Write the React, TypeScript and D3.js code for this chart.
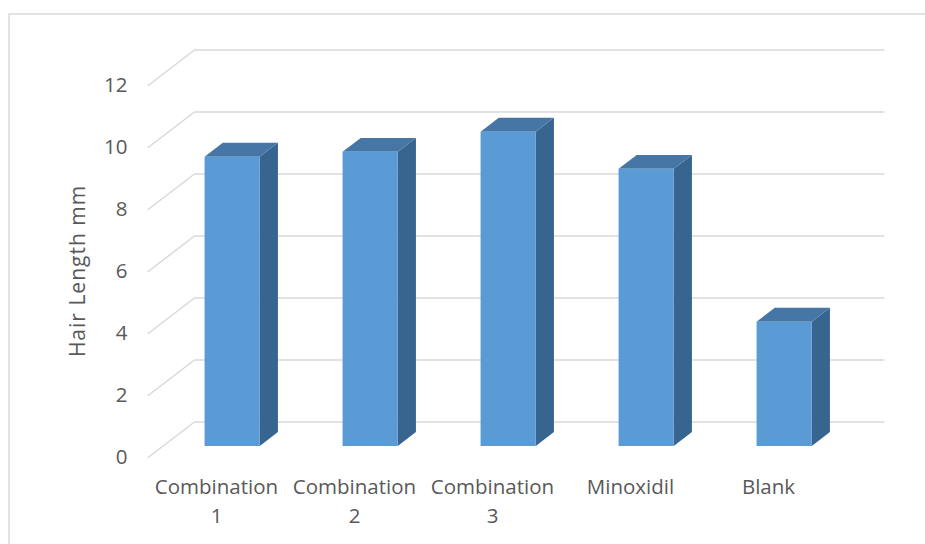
import React from "react";
import * as d3 from "d3";

const categories = ["Combination 1", "Combination 2", "Combination 3", "Minoxidil", "Blank"];
const values = [9.33, 9.49, 10.14, 8.94, 4.01];
const yTicks = [0, 2, 4, 6, 8, 10, 12];
const yTitle = "Hair Length mm";

const W = 925;
const H = 544;
const DX = 47;
const DY = -36;
const FRONT_F = 1 / 3;
const BACK_F = 0.72;
const FONT = "'Open Sans', 'Noto Sans', sans-serif";
const TEXT = "#595959";
const GRID = "#D9D9D9";

export default function App() {
  const x = d3.scaleBand<string>().domain(categories).range([147.5, 837.5]).paddingInner(0.6).paddingOuter(0.3);
  const y = d3.scaleLinear().domain([0, 12]).range([458, 86]);
  const bw = x.bandwidth();
  const x0 = 147.5;
  const x1 = 837.5;

  const P = (px: number, py: number, f: number) => [px + DX * f, py + DY * f];
  const poly = (pts: number[][]) => pts.map((p) => p.join(",")).join(" ");

  return (
    <svg width={W} height={H} style={{ position: "absolute", left: 0, top: 0, background: "#fff" }}>
      <rect x={9} y={14} width={W + 20} height={H + 20} fill="#fff" stroke={GRID} strokeWidth={1.5} />
      {yTicks.map((t) => {
        const a = P(x0, y(t), 0);
        const b = P(x0, y(t), 1);
        const c = P(x1, y(t), 1);
        return (
          <g key={t}>
            <polyline points={poly([a, b, c])} fill="none" stroke={GRID} strokeWidth={1.5} />
            <text x={127.5} y={y(t) + 1} textAnchor="end" dominantBaseline="middle" fontFamily={FONT} fontSize={20.5} fill={TEXT}>
              {t}
            </text>
          </g>
        );
      })}
      {categories.map((c, i) => {
        const v = values[i];
        const left = x(c)!;
        const right = left + bw;
        const fTopL = P(left, y(v), FRONT_F);
        const fTopR = P(right, y(v), FRONT_F);
        const fBotL = P(left, y(0), FRONT_F);
        const fBotR = P(right, y(0), FRONT_F);
        const bTopL = P(left, y(v), BACK_F);
        const bTopR = P(right, y(v), BACK_F);
        const bBotR = P(right, y(0), BACK_F);
        return (
          <g key={c}>
            <polygon points={poly([fTopR, bTopR, bBotR, fBotR])} fill="#386490" />
            <polygon points={poly([fTopL, bTopL, bTopR, fTopR])} fill="#4676A6" />
            <polygon points={poly([fTopL, fTopR, fBotR, fBotL])} fill="#5B9BD5" />
          </g>
        );
      })}
      {categories.map((c) => {
        const cx = x(c)! + bw / 2;
        const idx = c.lastIndexOf(" ");
        const lines = c.length > 10 && idx > 0 ? [c.slice(0, idx), c.slice(idx + 1)] : [c];
        return (
          <text key={c} textAnchor="middle" fontFamily={FONT} fontSize={20.5} fill={TEXT}>
            {lines.map((l, k) => (
              <tspan key={k} x={cx} y={494 + k * 29}>
                {l}
              </tspan>
            ))}
          </text>
        );
      })}
      <text
        transform={`translate(85, 271) rotate(-90)`}
        textAnchor="middle"
        fontFamily={FONT}
        fontSize={21}
        letterSpacing={1}
        fill={TEXT}
      >
        {yTitle}
      </text>
    </svg>
  );
}
